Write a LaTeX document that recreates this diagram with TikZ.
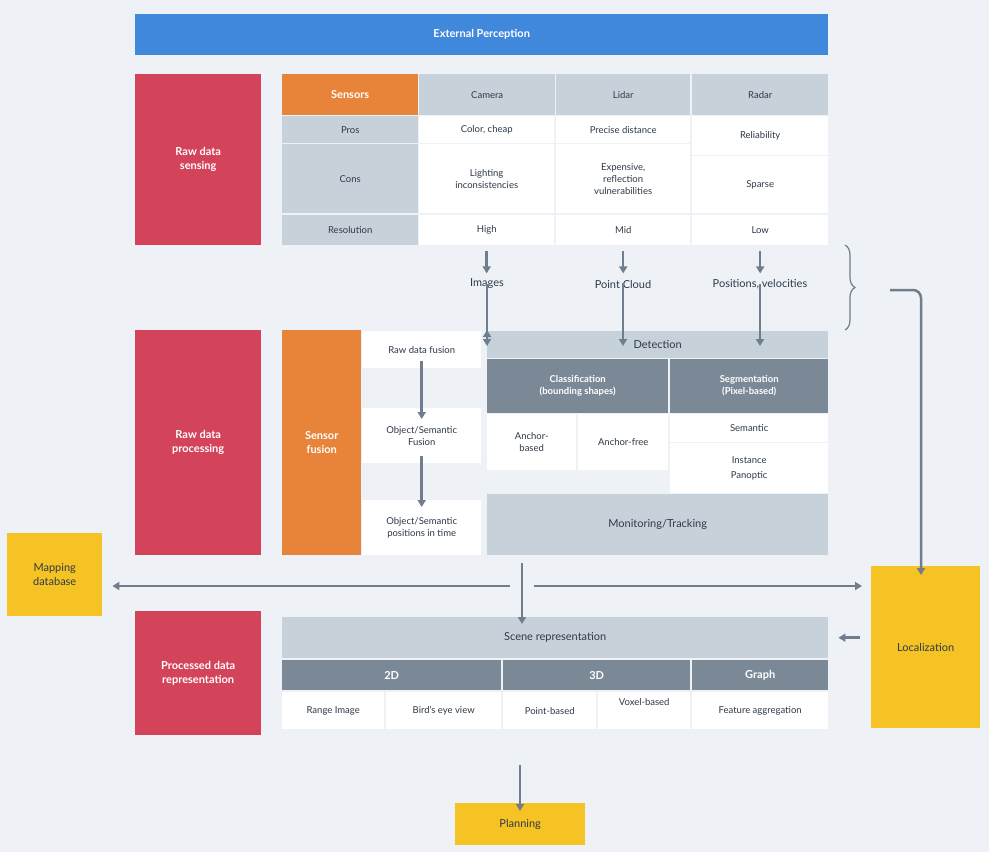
\documentclass[tikz,border=0pt]{standalone}
\usepackage{fontspec}
\setmainfont{Lato}
\usetikzlibrary{arrows.meta,decorations.pathreplacing}
\definecolor{bg}{HTML}{EEF2F6}
\definecolor{cblue}{HTML}{3F88DB}
\definecolor{cred}{HTML}{D3445B}
\definecolor{corange}{HTML}{E8843A}
\definecolor{clg}{HTML}{C6D1DA}
\definecolor{cdg}{HTML}{7B8997}
\definecolor{cyel}{HTML}{F5C324}
\definecolor{ctext}{HTML}{2E3A48}
\definecolor{carrow}{HTML}{6F7D8C}
\newcommand{\bx}[7]{\node[#1,minimum width={#4-#2},minimum height={#5-#3},anchor=north west] (#6) at (#2,#3) {#7};}
\begin{document}
\begin{tikzpicture}[x=1pt,y=-1pt,
  base/.style={inner sep=1pt,align=center,font=\fontsize{9.5}{12}\selectfont,text=ctext},
  blue/.style={base,fill=cblue,text=white,font=\fontsize{11}{13}\selectfont\bfseries},
  red/.style={base,fill=cred,text=white,font=\fontsize{11}{14}\selectfont\bfseries},
  orng/.style={base,fill=corange,text=white,font=\fontsize{11}{14}\selectfont\bfseries},
  lg/.style={base,fill=clg},
  lgb/.style={base,fill=clg,font=\fontsize{11}{13}\selectfont},
  dg/.style={base,fill=cdg,text=white,font=\fontsize{9.5}{12}\selectfont\bfseries},
  dgb/.style={base,fill=cdg,text=white,font=\fontsize{11}{13}\selectfont\bfseries},
  wh/.style={base,fill=white},
  yel/.style={base,fill=cyel,font=\fontsize{11}{14}\selectfont},
  arr/.style={draw=carrow,line width=2.5pt,-{Triangle[length=7pt,width=8pt]}},
  lbl/.style={base,font=\fontsize{11}{13}\selectfont}]
\fill[bg] (0,0) rectangle (989,852);
\useasboundingbox (0,0) rectangle (989,852);
\bx{blue}{135}{14}{828}{55}{ext}{External Perception}
\bx{red}{135}{74}{261}{245}{rds}{Raw data\\sensing}
\bx{orng}{282}{74}{418}{115}{sens}{Sensors}
\bx{lg}{419}{74}{555}{115}{cam}{Camera}
\bx{lg}{556}{74}{690}{115}{lid}{Lidar}
\bx{lg}{692}{74}{828}{115}{rad}{Radar}
\bx{lg}{282}{116}{418}{143}{pros}{Pros}
\bx{wh}{419}{116}{554}{143}{p1}{Color, cheap}
\bx{wh}{556}{116}{690}{143}{p2}{Precise distance}
\bx{wh}{692}{116}{828}{155}{p3}{Reliability}
\bx{lg}{282}{144}{418}{213}{cons}{Cons}
\bx{wh}{419}{144}{554}{213}{c1}{Lighting\\inconsistencies}
\bx{wh}{556}{144}{690}{213}{c2}{Expensive,\\reflection\\vulnerabilities}
\bx{wh}{692}{156}{828}{213}{c3}{Sparse}
\bx{lg}{282}{215}{418}{245}{res}{Resolution}
\bx{wh}{419}{215}{554}{245}{r1}{High}
\bx{wh}{556}{215}{690}{245}{r2}{Mid}
\bx{wh}{692}{215}{828}{245}{r3}{Low}
\node[lbl] (img) at (487,284) {Images};
\node[lbl] (pc) at (623,284) {Point Cloud};
\node[lbl] (pv) at (760,284) {Positions, velocities};
\bx{red}{135}{330}{261}{555}{rdp}{Raw data\\processing}
\bx{orng}{282}{330}{361}{555}{sf}{Sensor\\fusion}
\bx{wh}{362}{331}{481}{368}{f1}{Raw data fusion}
\bx{wh}{362}{408}{481}{463}{f2}{Object/Semantic\\Fusion}
\bx{wh}{362}{500}{481}{555}{f3}{Object/Semantic\\positions in time}
\bx{lgb}{487}{331}{828}{358}{det}{Detection}
\bx{dg}{487}{359}{668}{413}{cls}{Classification\\(bounding shapes)}
\bx{dg}{670}{359}{828}{413}{seg}{Segmentation\\(Pixel-based)}
\bx{wh}{487}{414}{576}{470}{ab}{Anchor-\\based}
\bx{wh}{578}{414}{668}{470}{af}{Anchor-free}
\bx{wh}{670}{414}{828}{442}{sem}{Semantic}
\bx{wh}{670}{443}{828}{493}{ip}{Instance\\[3pt]Panoptic}
\bx{lgb}{487}{494}{828}{555}{mon}{Monitoring/Tracking}
\bx{yel}{7}{533}{102}{616}{map}{Mapping\\database}
\bx{yel}{871}{566}{980}{728}{loc}{Localization}
\bx{red}{135}{611}{261}{735}{pdr}{Processed data\\representation}
\bx{lgb}{282}{617}{828}{658}{scene}{Scene representation}
\bx{dgb}{282}{660}{501}{690}{d2}{2D}
\bx{dgb}{503}{660}{690}{690}{d3}{3D}
\bx{dgb}{692}{660}{828}{690}{gr}{Graph}
\bx{wh}{282}{692}{384}{729}{e1}{Range Image}
\bx{wh}{386}{692}{501}{729}{e2}{Bird's eye view}
\bx{wh}{503}{692}{596}{729}{e3}{Point-based}
\node[wh,minimum width=92,minimum height=37,anchor=north west,text depth=18pt] (e4) at (598,692) {Voxel-based};
\bx{wh}{692}{692}{828}{729}{e5}{Feature aggregation}
\bx{yel}{455}{803}{585}{845}{plan}{Planning}
% arrows
\draw[arr] (r1.south)++(0,6) -- ++(0,22);
\draw[arr] (r2.south)++(0,6) -- ++(0,22);
\draw[arr] (r3.south)++(0,6) -- ++(0,22);
\draw[arr] (img.south)++(0,6) -- (img.south |- det.north) ++(0,-1);
\draw[arr] ([yshift=6]img.south) -- ([yshift=-15]img.south |- det.north);
\draw[arr] ([yshift=6]pc.south) -- ([yshift=-15]pc.south |- det.north);
\draw[arr] ([yshift=6]pv.south) -- ([yshift=-15]pv.south |- det.north);
\draw[arr] ([yshift=7]f1.south) -- ([yshift=-11]f2.north);
\draw[arr] ([yshift=7]f2.south) -- ([yshift=-7]f3.north);
\draw[carrow,line width=1.2pt,decorate,decoration={brace,amplitude=10pt}] (845,245) -- (845,330);
\coordinate (bt) at (890,290);
\draw[arr,rounded corners=8pt] (bt) -- (921,290) -- ([yshift=-9]loc.north -| 921,0);
\coordinate (c0) at (522,563);
\draw[arr] (c0) -- ([yshift=-7]scene.north -| c0);
\coordinate (cl) at (510,586);
\coordinate (cr) at (534,586);
\draw[arr] (cl) -- ([xshift=10]map.east |- cl);
\draw[arr] (cr) -- ([xshift=-9]loc.west |- cr);
\draw[arr] ([xshift=-11]loc.west |- scene.east) -- ([xshift=10]scene.east);
\coordinate (cp) at (520,765);
\draw[arr] (cp) -- ([yshift=-8]plan.north -| cp);
\end{tikzpicture}
\end{document}
